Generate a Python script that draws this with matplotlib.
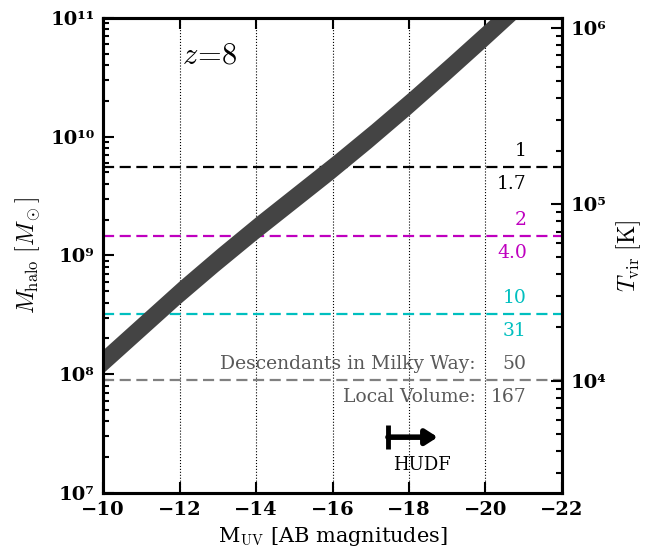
import numpy as np
import matplotlib
matplotlib.use('Agg')
import matplotlib.pyplot as plt
from matplotlib.ticker import FixedLocator, FuncFormatter, LogLocator, NullFormatter

plt.rcParams['font.family'] = 'DejaVu Serif'
plt.rcParams['mathtext.fontset'] = 'cm'

# band: M_UV vs log10 halo mass (centre of the shaded band)
muv = [-10, -11, -12, -13, -14, -15, -16, -17, -18, -19, -20, -21]
logm_mid = [8.11, 8.40, 8.69, 8.965, 9.23, 9.485, 9.74, 10.005, 10.28, 10.565, 10.855, 11.15]
band_halfwidth = 0.098

# horizontal thresholds: halo mass, colour, MW count, LV count
thr_mass = [5.56e9, 1.46e9, 3.2e8, 8.96e7]
thr_color = ['k', 'm', 'c', '0.5']
thr_text_color = ['k', 'm', 'c', '0.35']
mw_counts = ['1', '2', '10', '50']
lv_counts = ['1.7', '4.0', '31', '167']

xticks = [-10, -12, -14, -16, -18, -20, -22]
hudf_start = -17.45
hudf_end = -18.75
hudf_mass = 10**7.47

sup = str.maketrans('0123456789', '⁰¹²³⁴⁵⁶⁷⁸⁹')


def pow_fmt(v, pos):
    e = int(round(np.log10(v)))
    return '10' + str(e).translate(sup)


fig = plt.figure(figsize=(6.5, 5.48), dpi=100)
ax = fig.add_axes([0.1585, 0.1004, 0.7061, 0.8668])

lo = [10**(v - band_halfwidth) for v in logm_mid]
hi = [10**(v + band_halfwidth) for v in logm_mid]
ax.fill_between(muv, lo, hi, color='#444444', lw=0, zorder=3)

for x in xticks[1:-1]:
    ax.axvline(x, color='k', ls=':', lw=0.8, zorder=1)

for m, c in zip(thr_mass, thr_color):
    ax.axhline(m, color=c, ls=(0, (5, 2.5)), lw=1.6, zorder=2)

fs = 13.5
for m, tc, a, b in zip(thr_mass[:3], thr_text_color[:3], mw_counts[:3], lv_counts[:3]):
    ax.text(-21.08, m * 1.15, a, color=tc, ha='right', va='bottom', fontsize=fs)
    ax.text(-21.08, m / 1.17, b, color=tc, ha='right', va='top', fontsize=fs)

ax.text(-21.08, thr_mass[3] * 1.15, mw_counts[3], color='0.35', ha='right', va='bottom', fontsize=fs)
ax.text(-21.08, thr_mass[3] / 1.17, lv_counts[3], color='0.35', ha='right', va='top', fontsize=fs)
ax.text(-19.75, thr_mass[3] * 1.15, 'Descendants in Milky Way:', color='0.35', ha='right', va='bottom', fontsize=fs)
ax.text(-19.75, thr_mass[3] / 1.17, 'Local Volume:', color='0.35', ha='right', va='top', fontsize=fs)

ax.text(0.172, 0.922, r'$z\!=\!8$', transform=ax.transAxes, fontsize=22, va='center')

ax.annotate('', xy=(hudf_end, hudf_mass), xytext=(hudf_start, hudf_mass),
            arrowprops=dict(arrowstyle='-|>,head_length=0.7,head_width=0.45',
                            lw=4, color='k', shrinkA=0, shrinkB=0))
ax.plot([hudf_start], [hudf_mass], marker='|', ms=17, mew=3.5, color='k')
ax.text(-18.35, 10**7.236, 'HUDF', ha='center', va='center', fontsize=13)

ax.set_yscale('log')
ax.set_xlim(-10, -22)
ax.set_ylim(1e7, 1e11)
ax.xaxis.set_major_locator(FixedLocator(xticks))
ax.xaxis.set_major_formatter(FuncFormatter(lambda v, p: '\u2212%d' % abs(v)))
ax.yaxis.set_major_formatter(FuncFormatter(pow_fmt))
ax.yaxis.set_minor_formatter(NullFormatter())
ax.tick_params(which='both', direction='in', top=True, right=False, width=1.5)
ax.tick_params(which='major', length=8, labelsize=14, pad=6)
ax.tick_params(which='minor', length=4)
for lab in ax.get_xticklabels() + ax.get_yticklabels():
    lab.set_fontweight('bold')
for s in ax.spines.values():
    s.set_linewidth(2.2)

ax.set_xlabel(r'M$_{\mathrm{UV}}$ [AB magnitudes]', fontsize=15, labelpad=4)
ax.set_ylabel(r'$M_{\rm halo}\ [M_\odot]$', fontsize=17, labelpad=6)

ax2 = ax.twinx()
ax2.set_yscale('log')
ax2.set_ylim(10**3.362, 10**6.057)
ax2.yaxis.set_major_locator(LogLocator(base=10))
ax2.yaxis.set_major_formatter(FuncFormatter(pow_fmt))
ax2.yaxis.set_minor_locator(LogLocator(base=10, subs=np.arange(2, 10)))
ax2.yaxis.set_minor_formatter(NullFormatter())
ax2.tick_params(which='both', direction='in', width=1.5)
ax2.tick_params(which='major', length=8, labelsize=14, pad=6)
ax2.tick_params(which='minor', length=4)
for lab in ax2.get_yticklabels():
    lab.set_fontweight('bold')
for s in ax2.spines.values():
    s.set_linewidth(2.2)
ax2.set_ylabel(r'$T_{\rm vir}\ [\mathrm{K}]$', fontsize=17, labelpad=6)

fig.savefig('out.png', dpi=100)
